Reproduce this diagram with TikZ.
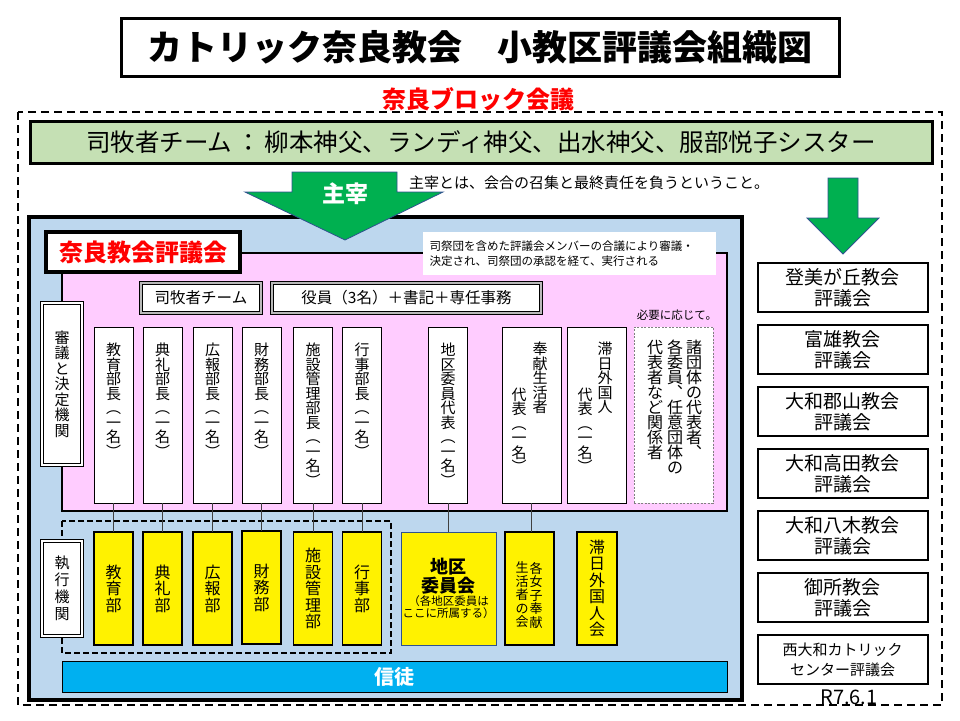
\documentclass[tikz,border=0pt]{standalone}
\usepackage{fontspec}
\setmainfont{Noto Sans CJK JP}
\usepackage{tikz}

\newcommand{\fsz}[2]{\fontsize{#1}{#2}\selectfont}

\definecolor{kusa}{RGB}{197,224,180}
\definecolor{midori}{RGB}{0,176,80}
\definecolor{waku}{RGB}{47,82,143}
\definecolor{sora}{RGB}{189,215,238}
\definecolor{momo}{RGB}{255,204,255}
\definecolor{shin}{RGB}{0,176,240}

\tikzset{
  every node/.style={inner sep=0pt, outer sep=0pt},
  colbox/.style={draw=black, line width=1pt, fill=white, minimum width=39pt, minimum height=176pt},
  yelbox/.style={draw=black, line width=1.2pt, fill=yellow, minimum width=39pt, minimum height=113pt,
    align=center, font=\fsz{16}{16.5}},
  tatetext/.style={anchor=north, align=center, font=\fsz{15}{14.5}},
  dblbox/.style={draw=black, line width=0.9pt, double=gray!55, double distance=1.3pt, fill=white,
    minimum height=30pt, font=\fsz{15.5}{15.5}},
  sidebox/.style={draw=black, line width=1pt, double=white, double distance=1.5pt, fill=white,
    minimum width=40pt, align=center, font=\fsz{15}{15.5}},
  chbox/.style={draw=black, line width=2pt, fill=white, minimum width=170pt, minimum height=49pt,
    align=center, font=\fsz{19}{21}},
  wire/.style={draw=black!75, line width=0.8pt},
  bigarrow/.style={fill=midori, draw=waku, line width=0.8pt},
}

\begin{document}
\begin{tikzpicture}[x=1pt,y=-1pt]
\useasboundingbox (0,0) rectangle (960,720);

% block frame and heading
\draw[line width=1.8pt, dash pattern=on 8pt off 5pt] (18,112) rectangle (942,705);
\node[draw, line width=3pt, minimum width=718pt, minimum height=58pt, font=\fsz{35}{35}\bfseries] (title) at (480,47) {カトリック奈良教会　小教区評議会組織図};
\node[text=red, font=\fsz{24}{24}\bfseries] (block) at (478,99) {奈良ブロック会議};
\node[draw, line width=3pt, fill=kusa, minimum width=902pt, minimum height=42pt, font=\fsz{24.5}{24.5}] (team) at (481,142) {司牧者チーム\hspace{4pt}：\hspace{4pt}柳本神父、ランディ神父、出水神父、服部悦子シスター};

% parish council
\draw[line width=4pt, fill=sora] (29,217) rectangle (742,700);
\draw[line width=2.5pt, fill=momo] (62,253) rectangle (727,511);
\draw[bigarrow] (292,172) -- (397,172) -- (397,192) -- (443,192) -- (345,240) -- (245,192) -- (292,192) -- cycle;
\node[text=white, font=\fsz{23}{23}\bfseries] (shusai) at (345,194) {主宰};
\node[anchor=west, font=\fsz{15}{15}] (shusaimemo) at (409,183) {主宰とは、会合の召集と最終責任を負うということ。};

\node[draw, line width=4pt, fill=white, minimum width=194pt, minimum height=40pt, text=red, font=\fsz{24}{24}\bfseries] (council) at (143,252) {奈良教会評議会};
\node[fill=white, minimum width=293pt, minimum height=43pt, text width=280pt, align=left, font=\fsz{11.5}{15}] (memo) at (569.5,253.5) {司祭団を含めた評議会メンバーの合議により審議・\\決定され、司祭団の承認を経て、実行される};

\node[dblbox, minimum width=120pt] (bokusha) at (201,298) {司牧者チーム};
\node[dblbox, minimum width=269pt] (yakuin) at (406.5,298) {役員（3名）＋書記＋専任事務};
\node[anchor=east, font=\fsz{11.5}{11.5}] (hitsuyo) at (717,315) {必要に応じて。};

\node[sidebox, minimum height=162pt] (shingi) at (62,384) {審\\議\\と\\決\\定\\機\\関};

% heads of departments
\node[colbox] (kyoiku) at (113.5,415) {};
\node[tatetext] (kyoikuT) at (113.5,343) {教\\育\\部\\長\\︵\\一\\名\\︶};
\node[colbox] (tenrei) at (162.5,415) {};
\node[tatetext] (tenreiT) at (162.5,343) {典\\礼\\部\\長\\︵\\一\\名\\︶};
\node[colbox] (koho) at (212.5,415) {};
\node[tatetext] (kohoT) at (212.5,343) {広\\報\\部\\長\\︵\\一\\名\\︶};
\node[colbox] (zaimu) at (261.5,415) {};
\node[tatetext] (zaimuT) at (261.5,343) {財\\務\\部\\長\\︵\\一\\名\\︶};
\node[colbox] (shisetsu) at (313,415) {};
\node[tatetext] (shisetsuT) at (313,343) {施\\設\\管\\理\\部\\長\\︵\\一\\名\\︶};
\node[colbox] (gyoji) at (362,415) {};
\node[tatetext] (gyojiT) at (362,343) {行\\事\\部\\長\\︵\\一\\名\\︶};
\node[colbox] (chiku) at (448,415) {};
\node[tatetext] (chikuT) at (448,343) {地\\区\\委\\員\\代\\表\\︵\\一\\名\\︶};
\node[colbox, minimum width=59pt] (hoken) at (531.5,415) {};
\node[tatetext] (hokenT) at (540,342) {奉\\献\\生\\活\\者};
\node[tatetext] (hokenT2) at (519,388) {代\\表\\︵\\一\\名\\︶};
\node[colbox, minimum width=59pt] (tainichi) at (596.5,415) {};
\node[tatetext] (tainichiT) at (605,342) {滞\\日\\外\\国\\人};
\node[tatetext] (tainichiT2) at (585,388) {代\\表\\︵\\一\\名\\︶};
\node[colbox, minimum width=79pt, draw=gray, line width=0.7pt, dash pattern=on 2pt off 1.5pt] (shodantai) at (673.5,415) {};
\node[tatetext, font=\fsz{16}{15}] (shodantaiT) at (694,340) {諸\\団\\体\\の\\代\\表\\者\\︑};
\node[tatetext, font=\fsz{16}{15}] (shodantaiT2) at (675,340) {各\\委\\員\\︑\\任\\意\\団\\体\\の};
\node[tatetext, font=\fsz{16}{15}] (shodantaiT3) at (655,340) {代\\表\\者\\な\\ど\\関\\係\\者};

% executive bodies
\draw[line width=1.8pt, dash pattern=on 6pt off 3pt] (62,521) rectangle (391,653);
\node[sidebox, minimum height=95pt, font=\fsz{15}{17}] (shikko) at (62,588.5) {執\\行\\機\\関};
\node[yelbox] (kyoikubu) at (113.5,588.5) {教\\育\\部};
\node[yelbox] (tenreibu) at (162.5,588.5) {典\\礼\\部};
\node[yelbox] (kohobu) at (212.5,588.5) {広\\報\\部};
\node[yelbox] (zaimubu) at (261.5,587.5) {財\\務\\部};
\node[yelbox] (shisetsubu) at (313,588.5) {施\\設\\管\\理\\部};
\node[yelbox] (gyojibu) at (362,588.5) {行\\事\\部};
\node[yelbox, draw=waku, line width=1pt, minimum width=95pt] (chikukai) at (448.5,588.5) {};
\node[align=center, font=\fsz{18}{18.5}\bfseries] (chikukaiT) at (448.5,576) {地区\\委員会};
\node[align=center, font=\fsz{11.5}{12}] (chikukaiT2) at (448.5,607.5) {（各地区委員は\\ここに所属する）};
\node[yelbox, minimum width=49pt] (joshikai) at (529.5,588.5) {};
\node[tatetext, font=\fsz{13}{13.5}] (joshikaiT) at (536,562) {各\\女\\子\\奉\\献};
\node[tatetext, font=\fsz{13}{13.5}] (joshikaiT2) at (522,562) {生\\活\\者\\の\\会};
\node[yelbox, minimum width=40pt] (tainichikai) at (597,588.5) {滞\\日\\外\\国\\人\\会};

\draw[wire] (kyoiku) -- (kyoikubu);
\draw[wire] (tenrei) -- (tenreibu);
\draw[wire] (koho) -- (kohobu);
\draw[wire] (zaimu) -- (zaimubu);
\draw[wire] (shisetsu) -- (shisetsubu);
\draw[wire] (gyoji) -- (gyojibu);
\draw[wire] (chiku.south) -- (chiku.south |- chikukai.north);
\draw[wire] (hoken.south) -- (hoken.south |- joshikai.north);

\node[draw=black, line width=0.8pt, fill=shin, minimum width=665pt, minimum height=31pt, text=white, font=\fsz{20}{20}\bfseries] (shinto) at (394.5,676.5) {信徒};

% other parishes
\draw[bigarrow] (828,178) -- (858,178) -- (858,218) -- (879,218) -- (843,254) -- (807,218) -- (828,218) -- cycle;
\node[chbox] (tomigaoka) at (842.5,287.5) {登美が丘教会\\評議会};
\node[chbox] (tomio) at (842.5,349.5) {富雄教会\\評議会};
\node[chbox] (koriyama) at (842.5,411.5) {大和郡山教会\\評議会};
\node[chbox] (takada) at (842.5,473.5) {大和高田教会\\評議会};
\node[chbox] (yagi) at (842.5,535.5) {大和八木教会\\評議会};
\node[chbox] (gose) at (842.5,597.5) {御所教会\\評議会};
\node[chbox, font=\fsz{15}{20}] (nishiyamato) at (842.5,659.5) {西大和カトリック\\センター評議会};

\node[anchor=base, font=\fsz{20}{20}] (date) at (849,704) {R7.6.1};
\end{tikzpicture}
\end{document}
